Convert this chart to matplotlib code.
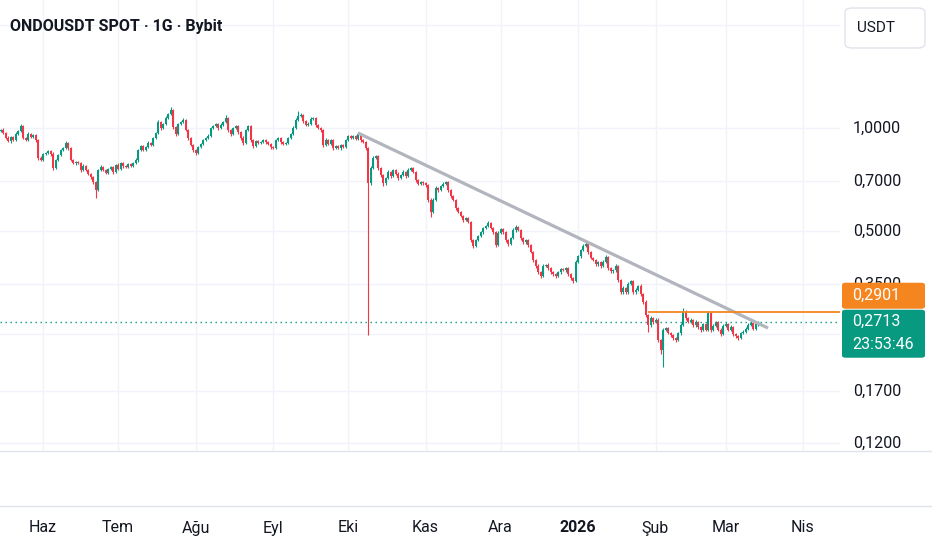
import numpy as np
import pandas as pd
import matplotlib
matplotlib.use('Agg')
import matplotlib.pyplot as plt
from matplotlib.patches import FancyBboxPatch
from matplotlib.lines import Line2D
from matplotlib.transforms import blended_transform_factory

# daily candles, first one on start_date, open of each candle = previous close
start_date = '2025-05-15'
first_open = 0.980
closes = [
    0.987, 0.967, 0.935, 0.916, 0.941, 0.922, 0.960, 0.980, 1.013, 0.935, 0.922, 0.960, 0.941, 0.954, 0.922, 0.817, 0.806, 0.839, 0.845, 0.857,
    0.839, 0.764, 0.806, 0.834, 0.862, 0.874, 0.904, 0.874, 0.806, 0.790, 0.795, 0.790, 0.754, 0.774, 0.754, 0.734, 0.719, 0.695, 0.659, 0.754,
    0.769, 0.754, 0.739, 0.759, 0.769, 0.744, 0.780, 0.759, 0.790, 0.774, 0.769, 0.785, 0.774, 0.790, 0.806, 0.862, 0.886, 0.862, 0.880, 0.904,
    0.892, 0.935, 0.967, 1.041, 1.000, 1.027, 1.070, 1.099, 1.129, 1.007, 0.960, 1.027, 1.041, 1.055, 0.987, 0.935, 0.892, 0.862, 0.845, 0.880,
    0.898, 0.922, 0.935, 0.947, 1.000, 1.013, 1.027, 1.000, 1.020, 1.041, 1.070, 0.987, 0.960, 1.000, 1.013, 0.973, 0.935, 0.904, 0.987, 1.013,
    0.922, 0.886, 0.916, 0.904, 0.910, 0.922, 0.910, 0.898, 0.880, 0.874, 0.922, 0.935, 0.910, 0.898, 0.904, 0.935, 0.960, 1.000, 1.055, 1.084,
    1.092, 1.048, 1.020, 1.027, 1.063, 1.070, 1.020, 1.000, 0.987, 0.892, 0.922, 0.898, 0.922, 0.874, 0.886, 0.874, 0.892, 0.880, 0.922, 0.947,
    0.935, 0.947, 0.929, 0.960, 0.922, 0.910, 0.874, 0.690, 0.764, 0.817, 0.828, 0.764, 0.729, 0.690, 0.714, 0.744, 0.724, 0.754, 0.734, 0.714,
    0.729, 0.744, 0.724, 0.754, 0.764, 0.744, 0.705, 0.686, 0.695, 0.690, 0.681, 0.616, 0.568, 0.616, 0.668, 0.659, 0.677, 0.686, 0.695, 0.659,
    0.633, 0.616, 0.583, 0.568, 0.553, 0.538, 0.545, 0.531, 0.470, 0.452, 0.470, 0.483, 0.496, 0.510, 0.517, 0.528, 0.510, 0.496, 0.455, 0.493,
    0.507, 0.496, 0.470, 0.458, 0.477, 0.503, 0.514, 0.503, 0.477, 0.464, 0.470, 0.455, 0.434, 0.411, 0.395, 0.379, 0.369, 0.395, 0.398, 0.389,
    0.379, 0.374, 0.369, 0.379, 0.387, 0.384, 0.389, 0.374, 0.364, 0.357, 0.406, 0.422, 0.440, 0.452, 0.458, 0.434, 0.417, 0.411, 0.400, 0.406,
    0.395, 0.406, 0.420, 0.389, 0.381, 0.384, 0.395, 0.359, 0.331, 0.340, 0.331, 0.350, 0.357, 0.331, 0.336, 0.345, 0.327, 0.310, 0.284, 0.265,
    0.278, 0.271, 0.275, 0.240, 0.224, 0.257, 0.260, 0.252, 0.248, 0.243, 0.240, 0.251, 0.265, 0.290, 0.278, 0.271, 0.275, 0.265, 0.271, 0.262,
    0.257, 0.267, 0.257, 0.288, 0.257, 0.264, 0.271, 0.257, 0.250, 0.264, 0.267, 0.257, 0.262, 0.250, 0.246, 0.243, 0.251, 0.254, 0.259, 0.265,
    0.269, 0.259, 0.267, 0.2713,
]
# wick lengths in % beyond the candle body
upper_wick_pct = [
    0.8, 1.0, 0.6, 1.2, 0.9, 0.7, 1.1, 0.8, 1.5, 0.6, 0.9, 1.2, 0.7, 0.8, 0.6, 0.9, 1.1, 0.8, 1.0, 0.7,
    0.9, 1.2, 0.8, 0.6, 1.0, 0.9, 1.3, 0.7, 0.8, 1.0, 0.6, 0.9, 0.8, 1.1, 0.7, 0.9, 0.6, 0.8, 1.0, 0.9,
    1.1, 0.7, 0.9, 0.8, 1.0, 0.6, 0.9, 1.2, 0.7, 0.8, 1.0, 0.9, 0.7, 0.8, 1.1, 0.9, 1.0, 0.7, 0.8, 1.2,
    0.9, 0.8, 1.0, 1.3, 0.7, 0.9, 1.1, 0.8, 2.0, 0.9, 0.7, 1.0, 0.8, 1.2, 0.9, 0.6, 0.8, 1.0, 0.7, 0.9,
    1.0, 0.8, 0.9, 1.1, 0.7, 0.9, 1.0, 0.8, 1.2, 0.9, 1.8, 0.8, 0.7, 1.0, 0.9, 0.8, 0.7, 1.1, 0.9, 1.0,
    0.8, 0.9, 0.7, 1.0, 0.8, 0.9, 0.6, 0.8, 0.7, 0.9, 1.0, 0.8, 0.9, 0.7, 0.8, 1.0, 0.9, 1.1, 1.2, 3.4,
    1.0, 0.8, 0.9, 1.1, 1.3, 0.9, 0.8, 0.7, 1.0, 0.9, 1.1, 0.8, 0.9, 0.7, 1.0, 0.8, 0.9, 0.7, 1.0, 0.8,
    0.9, 1.0, 0.8, 1.5, 0.9, 0.8, 0.7, 0.9, 1.2, 1.4, 1.0, 0.8, 0.9, 0.7, 1.0, 1.1, 0.8, 0.9, 0.7, 1.0,
    0.8, 1.0, 0.9, 1.2, 0.9, 0.8, 0.7, 0.9, 1.0, 0.8, 0.9, 0.7, 1.0, 1.3, 1.1, 0.8, 0.9, 1.2, 0.9, 0.8,
    0.7, 0.9, 0.8, 1.0, 0.9, 0.7, 0.8, 1.0, 0.9, 1.1, 1.0, 0.8, 0.9, 1.0, 0.8, 1.4, 0.9, 0.8, 1.0, 1.1,
    0.9, 0.8, 0.7, 1.0, 0.9, 1.1, 1.0, 0.8, 0.9, 0.7, 1.0, 0.8, 0.9, 0.7, 0.8, 1.0, 0.9, 1.2, 0.8, 0.9,
    1.0, 0.8, 0.9, 0.7, 1.0, 0.9, 0.8, 1.0, 0.9, 0.8, 1.2, 1.0, 0.9, 1.1, 2.0, 0.8, 0.9, 0.7, 1.0, 0.8,
    0.9, 1.2, 1.0, 0.8, 0.9, 1.1, 1.0, 0.8, 0.9, 1.2, 0.8, 1.0, 0.9, 0.8, 1.0, 0.9, 1.1, 0.8, 1.0, 0.9,
    1.2, 1.0, 1.3, 0.9, 0.8, 1.1, 1.0, 0.9, 0.8, 1.0, 0.9, 0.8, 1.2, 2.4, 1.0, 0.9, 1.1, 0.8, 1.0, 0.9,
    0.8, 1.0, 0.9, 1.5, 0.8, 1.0, 0.9, 0.8, 1.0, 0.9, 1.1, 0.8, 1.0, 0.9, 0.8, 1.0, 0.9, 1.0, 0.8, 1.2,
    1.1, 0.9, 1.0, 0.8,
]
lower_wick_pct = [
    0.7, 0.9, 1.0, 0.8, 1.1, 0.7, 0.9, 0.8, 0.6, 1.0, 0.8, 0.7, 0.9, 0.8, 1.0, 1.2, 0.9, 0.8, 0.7, 0.9,
    1.0, 1.3, 0.8, 0.9, 0.7, 0.8, 0.9, 1.0, 0.9, 0.8, 1.0, 0.7, 1.1, 0.8, 0.9, 1.0, 1.2, 1.4, 5.5, 0.8,
    0.9, 1.0, 0.8, 0.7, 0.9, 1.1, 0.8, 0.9, 0.7, 1.0, 0.8, 0.9, 0.7, 0.8, 0.9, 1.0, 0.8, 0.9, 0.7, 0.8,
    1.0, 0.8, 0.9, 0.7, 1.1, 0.8, 0.9, 0.7, 0.8, 1.2, 1.0, 0.8, 0.9, 0.7, 1.0, 1.1, 0.9, 1.2, 1.0, 0.8,
    0.9, 0.7, 0.8, 1.0, 0.9, 0.8, 0.7, 1.0, 0.8, 0.9, 0.7, 1.2, 1.0, 0.8, 0.9, 1.0, 1.1, 1.2, 0.8, 0.7,
    1.0, 1.2, 0.8, 0.9, 0.7, 0.8, 1.0, 0.9, 1.1, 0.8, 0.9, 0.7, 1.0, 0.9, 0.8, 0.7, 0.9, 0.8, 0.7, 0.9,
    0.8, 1.0, 0.9, 0.8, 0.7, 0.9, 1.0, 0.8, 1.1, 1.3, 0.9, 1.0, 0.8, 1.2, 0.9, 0.8, 1.0, 0.9, 0.8, 0.7,
    0.9, 0.8, 1.0, 0.7, 1.1, 0.9, 1.0, 64.0, 1.2, 0.8, 0.9, 1.5, 1.2, 1.8, 1.0, 0.8, 1.1, 0.9, 1.0, 1.2,
    0.9, 0.8, 1.1, 0.9, 0.8, 1.0, 1.2, 1.0, 0.9, 1.1, 1.0, 1.5, 3.0, 1.0, 0.9, 1.1, 0.8, 0.9, 1.0, 1.2,
    1.1, 1.0, 1.2, 1.0, 0.9, 1.1, 0.8, 1.0, 1.3, 1.5, 1.0, 0.9, 0.8, 1.0, 0.9, 0.8, 1.0, 1.1, 1.4, 0.9,
    0.8, 1.0, 1.2, 1.3, 0.9, 0.8, 1.0, 0.9, 1.1, 1.2, 1.0, 1.1, 1.0, 1.2, 1.1, 1.3, 1.2, 0.9, 1.0, 1.1,
    1.0, 1.2, 1.1, 0.9, 1.0, 0.8, 1.1, 1.0, 1.2, 1.3, 0.9, 0.8, 1.0, 0.9, 0.8, 1.1, 1.0, 0.9, 1.2, 1.0,
    1.1, 0.9, 0.8, 1.2, 1.0, 0.9, 1.1, 1.4, 1.3, 1.0, 1.2, 0.9, 1.0, 1.3, 1.0, 0.9, 1.2, 1.5, 1.3, 4.5,
    1.0, 1.2, 0.9, 1.5, 2.5, 10.7, 1.0, 1.1, 1.2, 1.0, 1.3, 0.9, 1.0, 0.8, 1.1, 1.0, 0.9, 1.2, 1.0, 1.1,
    1.2, 0.9, 1.0, 1.1, 1.3, 1.0, 0.9, 1.1, 1.2, 0.8, 1.0, 1.1, 0.9, 1.2, 1.1, 1.0, 0.9, 0.8, 1.0, 0.9,
    0.8, 1.1, 0.9, 1.0,
]

month_labels = ['Haz', 'Tem', 'Ağu', 'Eyl', 'Eki', 'Kas', 'Ara', '2026', 'Şub', 'Mar', 'Nis']
month_dates = ['2025-06-01', '2025-07-01', '2025-08-01', '2025-09-01', '2025-10-01', '2025-11-01',
               '2025-12-01', '2026-01-01', '2026-02-01', '2026-03-01', '2026-04-01']
# grid levels; 2.0 and 0.25 have their labels hidden under the scale buttons
price_ticks = [2.0, 1.0, 0.7, 0.5, 0.35, 0.25, 0.17, 0.12]
price_labels = ['', '1,0000', '0,7000', '0,5000', '0,3500', '', '0,1700', '0,1200']

trend_dates = ['2025-10-05', '2026-03-18']
trend_prices = [0.967, 0.260]
resistance_date = '2026-01-29'
resistance_price = 0.2901
last_price = 0.2713
countdown = '23:53:46'

GREEN = '#089981'
RED = '#f23645'
ORANGE = '#f5861f'
GRID = '#f0f3fa'
SEP = '#e0e3eb'
TXT = '#131722'
W, H = 932, 550

plt.rcParams['font.family'] = ['Roboto', 'DejaVu Sans']

t0 = pd.Timestamp(start_date)
def day_index(d):
    return (pd.Timestamp(d) - t0).days

closes = np.array(closes)
opens = np.r_[first_open, closes[:-1]]
highs = np.maximum(opens, closes) * (1 + np.array(upper_wick_pct) / 100)
lows = np.minimum(opens, closes) * (1 - np.array(lower_wick_pct) / 100)
x = np.arange(len(closes))
up = closes >= opens
colors = np.where(up, GREEN, RED)

fig = plt.figure(figsize=(W / 100, H / 100), dpi=100)
fig.patch.set_facecolor('white')
ax = fig.add_axes([0, 99 / H, 840 / W, 451 / H])
ax.set_yscale('log')
ax.set_xlim(-0.2, 335.8)
ax.set_ylim(0.1136, 2.368)
for s in ax.spines.values():
    s.set_visible(False)
ax.set_xticks([])
ax.set_yticks([])
ax.minorticks_off()

month_x = [day_index(d) for d in month_dates]
for mx in month_x:
    ax.axvline(mx, color=GRID, lw=1, zorder=0)
for p in price_ticks:
    ax.axhline(p, color=GRID, lw=1, zorder=0)

# candles
body_lo = np.minimum(opens, closes)
body_h = np.maximum(np.abs(closes - opens), body_lo * 0.004)
ax.vlines(x, lows, highs, colors=colors, lw=0.8, zorder=2)
ax.bar(x, body_h, bottom=body_lo, width=0.8, color=colors, lw=0, zorder=3)

# trend line, resistance, last price
ax.plot([day_index(d) for d in trend_dates], trend_prices, color='#b2b5be', lw=2.3,
        solid_capstyle='butt', zorder=4)
ax.hlines(resistance_price, day_index(resistance_date), 335.8, color=ORANGE, lw=1.3, zorder=4)
ax.axhline(last_price, color=GREEN, lw=1, linestyle=(0, (1, 2.6)), zorder=1)

# pane separators
for yy in [451, 506]:
    fig.add_artist(Line2D([0, 1], [1 - yy / H] * 2, transform=fig.transFigure, color=SEP, lw=1))

# price scale
ytrans = blended_transform_factory(fig.transFigure, ax.transData)
for p, lbl in zip(price_ticks, price_labels):
    if lbl:
        fig.text(853 / W, p, lbl, transform=ytrans, fontsize=11.5, color=TXT, va='center', ha='left', zorder=1)

# time scale
xtrans = blended_transform_factory(ax.transData, fig.transFigure)
for mx, lbl in zip(month_x, month_labels):
    fig.text(mx, 1 - 528 / H, lbl, transform=xtrans, fontsize=11.5, color=TXT, ha='center', va='center',
             fontweight='bold' if lbl == '2026' else 'normal')

# price tags on the scale
ypix = ax.transData.transform((0, last_price))[1]
fig.add_artist(FancyBboxPatch((842 / W, (ypix - 36) / H), 83 / W, 48 / H, boxstyle='round,pad=0,rounding_size=0.004',
                              transform=fig.transFigure, facecolor=GREEN, edgecolor='none', zorder=5))
fig.text(852 / W, ypix / H, '0,2713', color='white', fontsize=11.5, va='center', ha='left', zorder=6)
fig.text(852 / W, (ypix - 23) / H, countdown, color='white', fontsize=11.5, va='center', ha='left', zorder=6)
fig.add_artist(FancyBboxPatch((842 / W, (ypix + 13) / H), 83 / W, 26 / H, boxstyle='round,pad=0,rounding_size=0.004',
                              transform=fig.transFigure, facecolor=ORANGE, edgecolor='none', zorder=5))
fig.text(852 / W, (ypix + 26) / H, '0,2901', color='white', fontsize=11.5, va='center', ha='left', zorder=6)

# currency button and title
fig.add_artist(FancyBboxPatch((845 / W, 1 - 48 / H), 80 / W, 40 / H, boxstyle='round,pad=0,rounding_size=0.008',
                              transform=fig.transFigure, facecolor='white', edgecolor=SEP, lw=1, zorder=5))
fig.text(857 / W, 1 - 28 / H, 'USDT', color=TXT, fontsize=11, va='center', ha='left', zorder=6)
fig.text(10 / W, 1 - 26 / H, 'ONDOUSDT SPOT · 1G · Bybit', color=TXT, fontsize=11.5, fontweight='bold',
         va='center', ha='left', zorder=6)

fig.savefig('out.png', dpi=100, facecolor='white')
